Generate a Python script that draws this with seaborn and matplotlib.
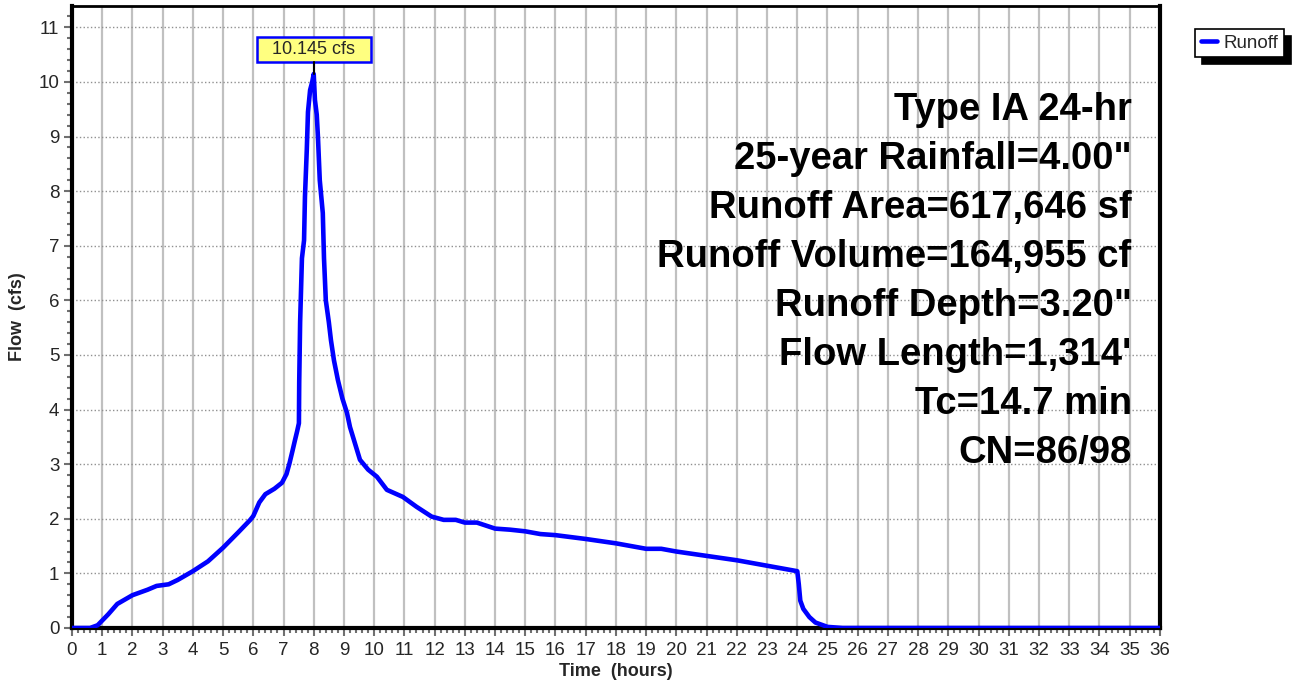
import matplotlib
matplotlib.use('Agg')
import matplotlib.pyplot as plt
from matplotlib.ticker import MultipleLocator
from matplotlib.patches import Rectangle
import pandas as pd
import seaborn as sns

# Runoff hydrograph (hours, cfs)
hours = [0, 0.6, 0.85, 1.2, 1.5, 2.0, 2.5, 2.8, 3.2, 3.5, 4.0, 4.5, 5.0, 5.5,
         5.9, 6.0, 6.2, 6.4, 6.7, 6.95, 7.1, 7.2, 7.3, 7.38, 7.45, 7.51, 7.52,
         7.55, 7.61, 7.68, 7.71, 7.77, 7.81, 7.88, 7.95, 8.0, 8.04, 8.1, 8.14,
         8.2, 8.3, 8.34, 8.4, 8.5, 8.57, 8.67, 8.8, 8.95, 9.1, 9.2, 9.53, 9.8,
         10.09, 10.42, 10.95, 11.4, 11.9, 12.3, 12.7, 13.0, 13.4, 14.0, 14.5,
         15.0, 15.5, 16.0, 17.0, 18.0, 19.0, 19.5, 20.0, 21.0, 22.0, 23.0, 24.0,
         24.05, 24.1, 24.2, 24.4, 24.6, 25.0, 25.5, 36.0]
flow = [0, 0, 0.05, 0.25, 0.44, 0.6, 0.7, 0.77, 0.8, 0.88, 1.04, 1.22, 1.47, 1.75,
        1.98, 2.05, 2.3, 2.45, 2.55, 2.66, 2.82, 3.02, 3.25, 3.44, 3.6, 3.75, 4.5,
        5.6, 6.77, 7.1, 7.9, 8.75, 9.45, 9.85, 10.0, 10.145, 9.67, 9.4, 8.99,
        8.2, 7.6, 6.77, 6.0, 5.6, 5.27, 4.9, 4.54, 4.2, 3.94, 3.68, 3.08, 2.9,
        2.77, 2.53, 2.40, 2.22, 2.04, 1.98, 1.98, 1.93, 1.93, 1.82, 1.8,
        1.77, 1.72, 1.70, 1.63, 1.55, 1.45, 1.45, 1.4, 1.32, 1.24, 1.14, 1.04,
        0.8, 0.5, 0.35, 0.2, 0.1, 0.02, 0, 0]

peak_time = 8.0
peak_flow = 10.145
peak_label = '10.145 cfs'

summary_lines = ['Type IA 24-hr',
                 '25-year Rainfall=4.00"',
                 'Runoff Area=617,646 sf',
                 'Runoff Volume=164,955 cf',
                 'Runoff Depth=3.20"',
                 "Flow Length=1,314'",
                 'Tc=14.7 min',
                 'CN=86/98']

df = pd.DataFrame({'Time': hours, 'Flow': flow})

sns.set_style('white')
plt.rcParams['font.family'] = ['Liberation Sans', 'DejaVu Sans']

fig = plt.figure(figsize=(12.94, 6.84), dpi=100)
ax = fig.add_axes([0.0556, 0.0819, 0.8408, 0.9093])

sns.lineplot(data=df, x='Time', y='Flow', color='#0000ff', linewidth=3.3,
             label='Runoff', ax=ax, zorder=5)

ax.set_xlim(0, 36)
ax.set_ylim(0, 11.39)
ax.xaxis.set_major_locator(MultipleLocator(1))
ax.xaxis.set_minor_locator(MultipleLocator(0.2))
ax.yaxis.set_major_locator(MultipleLocator(1))
ax.yaxis.set_minor_locator(MultipleLocator(0.2))

# grid: solid vertical, dotted horizontal
ax.grid(axis='x', which='major', color='#c0c0c0', linewidth=1.6, linestyle='-')
ax.grid(axis='y', which='major', color='#909090', linewidth=1.0, linestyle=':')
ax.set_axisbelow(True)

ax.tick_params(axis='both', which='major', direction='out', length=6, width=1.5,
               color='#707070', labelsize=13.5, bottom=True, left=True)
ax.tick_params(axis='x', which='major', pad=4)
ax.tick_params(axis='y', which='major', pad=3)
ax.tick_params(axis='both', which='minor', direction='out', length=3.5, width=1.5,
               color='#707070', bottom=True, left=True)

for side in ['left', 'right', 'bottom']:
    ax.spines[side].set_linewidth(3)
    ax.spines[side].set_color('black')
ax.spines['top'].set_linewidth(2)
ax.spines['top'].set_color('black')

ax.set_xlabel('Time  (hours)', fontsize=13, fontweight='bold', labelpad=3)
ax.set_ylabel('Flow  (cfs)', fontsize=13, fontweight='bold', labelpad=9)

# peak marker label: yellow box above the peak joined by a leader line
box_w, box_h, box_y = 3.77, 0.46, 10.6
ax.add_patch(Rectangle((peak_time - box_w / 2, box_y - box_h / 2), box_w, box_h,
                       facecolor='#ffff80', edgecolor='#0000ff', linewidth=1.8,
                       zorder=6))
ax.plot([peak_time, peak_time], [peak_flow, box_y - box_h / 2], color='black',
        linewidth=1.5, zorder=6)
ax.text(peak_time, box_y, peak_label, ha='center', va='center', fontsize=13,
        zorder=7)

# summary text block
for i, line in enumerate(summary_lines):
    ax.text(0.974, 0.833 - i * 0.0788, line, transform=ax.transAxes,
            ha='right', va='center', fontsize=27.5, fontweight='bold',
            color='black', zorder=7)

leg = ax.legend(loc='upper left', bbox_to_anchor=(0.9235, 0.9576),
                bbox_transform=fig.transFigure, frameon=True, fancybox=False,
                shadow={'color': 'black', 'alpha': 1, 'ox': 5, 'oy': -5},
                fontsize=13.5, handlelength=0.85, handletextpad=0.35,
                borderpad=0.3, borderaxespad=0)
leg.get_frame().set_edgecolor('black')
leg.get_frame().set_linewidth(1.2)
leg.get_frame().set_alpha(1)

fig.savefig('out.png', dpi=100)
plt.close('all')
